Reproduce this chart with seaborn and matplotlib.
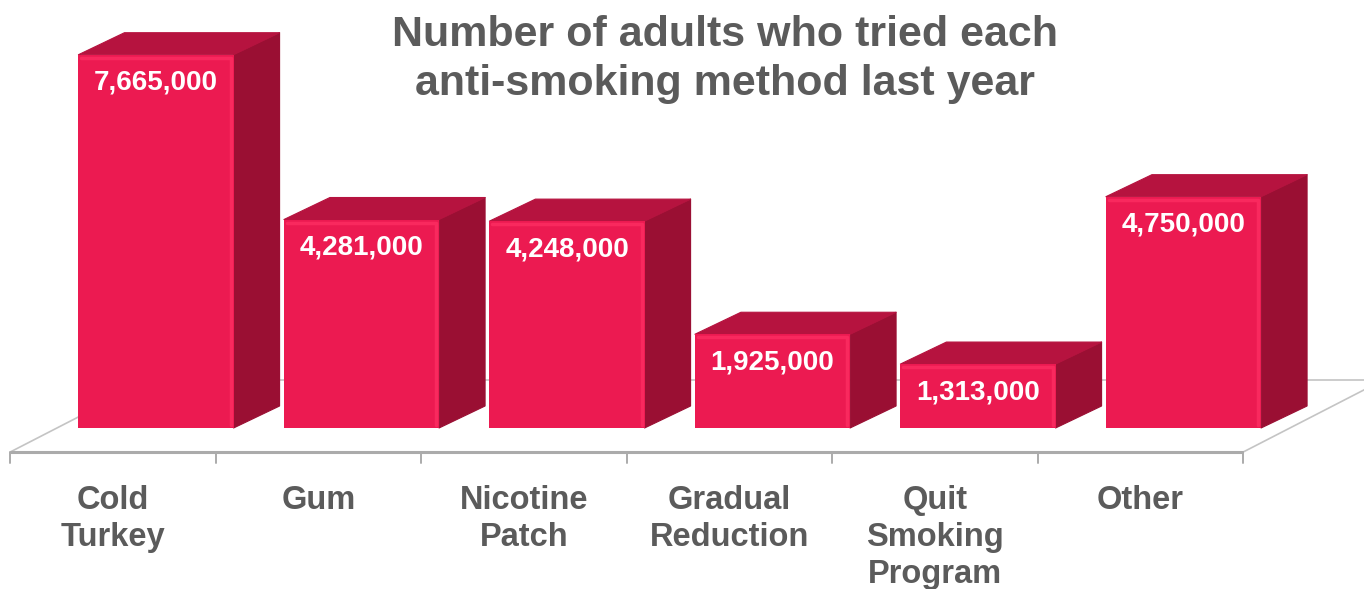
import matplotlib
matplotlib.use("Agg")
import matplotlib.pyplot as plt
import matplotlib.transforms as mtransforms
from matplotlib.patches import Polygon
import numpy as np
import pandas as pd
import seaborn as sns

# Data
methods = ["Cold\nTurkey", "Gum", "Nicotine\nPatch", "Gradual\nReduction",
           "Quit\nSmoking\nProgram", "Other"]
adults = [7665000, 4281000, 4248000, 1925000, 1313000, 4750000]
title = "Number of adults who tried each\nanti-smoking method last year"

# Styling
FRONT = "#EC1A51"
TOP = "#B6133F"
SIDE = "#9A0F33"
HILITE = "#FF3064"
GRAY = "#5B5B5B"
FLOOR_EDGE = "#ABABAB"
FLOOR_SIDE = "#C4C4C4"

sns.set_theme(style="white")
plt.rcParams["font.family"] = ["Liberation Sans", "DejaVu Sans"]

W, H = 1364, 589
fig = plt.figure(figsize=(W / 100, H / 100), dpi=100)
ax = fig.add_axes([0, 0, 1, 1])

df = pd.DataFrame({"method": methods, "adults": adults})
sns.barplot(data=df, x="method", y="adults", color=FRONT, saturation=1,
            width=0.755, ax=ax, zorder=3, linewidth=0)
bars = list(ax.patches)

# Axis scales: 205.5 px per category, 48.7 px per million
px_cat = 205.5
px_val = 48.7 / 1e6
floor_y_px = 137  # from bottom
ax.set_xlim(-113 / px_cat, (W - 113) / px_cat)
ax.set_ylim(-floor_y_px / px_val, (H - floor_y_px) / px_val)
ax.set_axis_off()


def px_to_data(dxp, dyp):
    o = ax.transData.transform((0, 0))
    p = ax.transData.inverted().transform(o + np.array([dxp, dyp]))
    return p[0], p[1]


front_px = (43, 24)      # bars stand back from the floor's front edge
depth_px = (46, 22)      # bar depth
floor_px = (140, 72)     # floor depth
fx, fy = px_to_data(*front_px)
dx, dy = px_to_data(*depth_px)
flx, fly = px_to_data(*floor_px)
ix, iy = px_to_data(3, 3)

# Floor
n = len(methods)
left, right = -0.5, n - 0.5
floor = Polygon([(left, 0), (right, 0), (right + flx, fly), (left + flx, fly)],
                closed=True, facecolor="white", edgecolor=FLOOR_SIDE,
                linewidth=1.2, zorder=1)
ax.add_patch(floor)
ax.plot([left, right], [0, 0], color=FLOOR_EDGE, lw=2.2, zorder=2,
        solid_capstyle="butt")
_, tick_len = px_to_data(0, -11)
for b in np.arange(left, right + 0.01, 1.0):
    ax.plot([b, b], [0, tick_len], color=FLOOR_EDGE, lw=1.4, zorder=2)

# 3D bars: shift fronts back, add top and side faces
shift = ax.transData + mtransforms.Affine2D().translate(*front_px)
for p, v in zip(bars, adults):
    x0, w, h = p.get_x(), p.get_width(), p.get_height()
    x1 = x0 + w
    p.set_transform(shift)
    p.set_zorder(4)
    side = Polygon([(x1 + fx, fy), (x1 + fx + dx, fy + dy),
                    (x1 + fx + dx, h + fy + dy), (x1 + fx, h + fy)],
                   closed=True, facecolor=SIDE, edgecolor=SIDE, lw=0.8,
                   joinstyle="round", zorder=3)
    top = Polygon([(x0 + fx, h + fy), (x1 + fx, h + fy),
                   (x1 + fx + dx, h + fy + dy), (x0 + fx + dx, h + fy + dy)],
                  closed=True, facecolor=TOP, edgecolor=TOP, lw=0.8,
                  joinstyle="round", zorder=3)
    ax.add_patch(side)
    ax.add_patch(top)
    # soft bevel highlight along front top and right edges
    ax.plot([x0 + fx + ix, x1 + fx - ix, x1 + fx - ix],
            [h + fy - iy, h + fy - iy, fy + iy],
            color=HILITE, lw=2.5, alpha=0.7, zorder=5,
            solid_joinstyle="round", solid_capstyle="round")
    ax.annotate(f"{v:,}", xy=(x0 + w / 2, h),
                xytext=(front_px[0], front_px[1] - 28),
                textcoords="offset pixels", ha="center", va="center",
                color="white", fontsize=20, fontweight="bold", zorder=6)

# Category labels below the floor
for i, m in enumerate(methods):
    ax.annotate(m, xy=(i, 0), xytext=(0, -33), textcoords="offset pixels",
                ha="center", va="top", fontsize=23.5, fontweight="bold",
                color=GRAY, linespacing=1.25)

fig.text(725 / W, 1 - 15 / H, title, ha="center", va="top", fontsize=31,
         fontweight="bold", color=GRAY, linespacing=1.3)

fig.savefig("out.png", dpi=100, facecolor="white")
